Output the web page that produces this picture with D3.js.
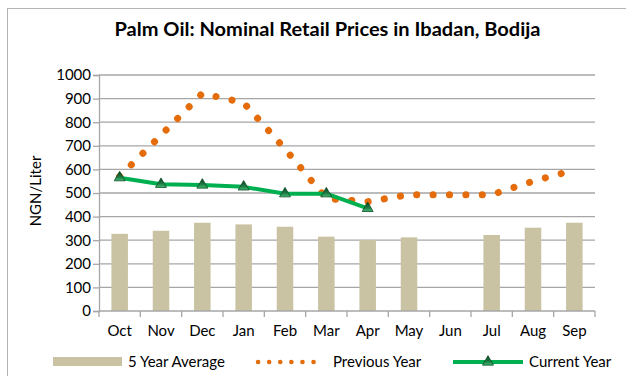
<!DOCTYPE html>
<html>
<head>
<meta charset="utf-8">
<script src="https://cdn.jsdelivr.net/npm/d3@7"></script>
<style>
  html, body { margin: 0; padding: 0; background: #fff; }
  svg { display: block; font-family: Lato, "Open Sans", sans-serif; }
</style>
</head>
<body>
<svg id="chart" width="626" height="376"></svg>
<script>
// Palm oil retail prices, Ibadan (Bodija market), NGN per liter
const months = ["Oct", "Nov", "Dec", "Jan", "Feb", "Mar", "Apr", "May", "Jun", "Jul", "Aug", "Sep"];
const fiveYearAvg = [327, 340, 374, 367, 357, 315, 301, 312, null, 322, 353, 374];
const previousYear = [570, 745, 922, 882, 687, 476, 463, 493, 493, 493, 550, 597];
const currentYear = [565, 537, 534, 526, 497, 497, 435, null, null, null, null, null];
const yTicks = [0, 100, 200, 300, 400, 500, 600, 700, 800, 900, 1000];

const titleText = "Palm Oil: Nominal Retail Prices in Ibadan, Bodija";
const yLabel = "NGN/Liter";
const legendLabels = ["5 Year Average", "Previous Year", "Current Year"];

const colors = { bar: "#c9c3a4", prev: "#e46c0a", curr: "#00b050", grid: "#a6a6a6", text: "#000" };

const svg = d3.select("#chart");
const plot = { left: 99, right: 595, top: 75, bottom: 311 };

// outer chart frame
svg.append("rect")
  .attr("x", 7.5).attr("y", 8.5).attr("width", 640).attr("height", 400)
  .attr("fill", "#fff").attr("stroke", "#b4b4b4").attr("stroke-width", 1);

const x = d3.scaleBand().domain(months).range([plot.left, plot.right]).paddingInner(0).paddingOuter(0);
const y = d3.scaleLinear().domain([0, 1000]).range([plot.bottom, plot.top]);
const cx = m => x(m) + x.bandwidth() / 2;

// horizontal gridlines + left ticks
const yAxis = d3.axisLeft(y).tickValues(yTicks).tickSize(6).tickPadding(2).tickFormat(d3.format("d"));
const gy = svg.append("g").attr("transform", `translate(${plot.left},0)`).call(yAxis);
gy.select(".domain").attr("stroke", colors.grid).attr("stroke-width", 1.3);
gy.selectAll(".tick line").attr("stroke", colors.grid).attr("stroke-width", 1.3);
gy.selectAll(".tick text").attr("font-size", 15).attr("fill", colors.text).attr("font-family", "Lato, sans-serif");
svg.append("g").selectAll("line").data(yTicks.filter(d => d > 0)).join("line")
  .attr("x1", plot.left).attr("x2", plot.right)
  .attr("y1", d => y(d)).attr("y2", d => y(d))
  .attr("stroke", colors.grid).attr("stroke-width", 1.3);

// bars: five-year average
const barW = x.bandwidth() * 0.4;
svg.append("g").selectAll("rect")
  .data(months.map((m, i) => ({ m, v: fiveYearAvg[i] })).filter(d => d.v != null))
  .join("rect")
  .attr("x", d => cx(d.m) - barW / 2)
  .attr("width", barW)
  .attr("y", d => y(d.v))
  .attr("height", d => y(0) - y(d.v))
  .attr("fill", colors.bar);

// category axis along the bottom
const xAxis = d3.axisBottom(x).tickSize(0).tickPadding(14);
const gx = svg.append("g").attr("transform", `translate(0,${plot.bottom})`).call(xAxis);
gx.select(".domain").remove();
gx.selectAll(".tick text").attr("font-size", 15).attr("fill", colors.text).attr("font-family", "Lato, sans-serif");
svg.append("line")
  .attr("x1", plot.left).attr("x2", plot.right)
  .attr("y1", plot.bottom).attr("y2", plot.bottom)
  .attr("stroke", colors.grid).attr("stroke-width", 1.3);
const boundaries = months.map(m => x(m)).concat([plot.right]);
svg.append("g").selectAll("line").data(boundaries).join("line")
  .attr("x1", d => d).attr("x2", d => d)
  .attr("y1", plot.bottom).attr("y2", plot.bottom + 6)
  .attr("stroke", colors.grid).attr("stroke-width", 1.3);

// previous year: thick round-dotted line
const prevLine = d3.line().x((d, i) => cx(months[i])).y(d => y(d));
svg.append("path")
  .datum(previousYear)
  .attr("d", prevLine)
  .attr("fill", "none")
  .attr("stroke", colors.prev)
  .attr("stroke-width", 7)
  .attr("stroke-linecap", "round")
  .attr("stroke-dasharray", "0.1 16.3");

// current year: solid green line with triangle markers
const defs = svg.append("defs");
const grad = defs.append("linearGradient").attr("id", "triFill").attr("x1", 0).attr("y1", 0).attr("x2", 0).attr("y2", 1);
grad.append("stop").attr("offset", "0%").attr("stop-color", "#0b3f1f");
grad.append("stop").attr("offset", "60%").attr("stop-color", "#1e7a43");
grad.append("stop").attr("offset", "100%").attr("stop-color", "#3fbf73");

const currPts = currentYear.map((v, i) => ({ m: months[i], v })).filter(d => d.v != null);
svg.append("path")
  .datum(currPts)
  .attr("d", d3.line().x(d => cx(d.m)).y(d => y(d.v)))
  .attr("fill", "none")
  .attr("stroke", colors.curr)
  .attr("stroke-width", 4)
  .attr("stroke-linejoin", "round");
const tri = d3.symbol().type(d3.symbolTriangle).size(52);
svg.append("g").selectAll("path").data(currPts).join("path")
  .attr("d", tri)
  .attr("transform", d => `translate(${cx(d.m)},${y(d.v)})`)
  .attr("fill", "url(#triFill)")
  .attr("stroke", "#0c4a24")
  .attr("stroke-width", 0.8);

// title
svg.append("text")
  .attr("x", 327.5).attr("y", 36)
  .attr("text-anchor", "middle")
  .attr("font-size", 18).attr("font-weight", "bold")
  .attr("fill", colors.text)
  .attr("textLength", 426).attr("lengthAdjust", "spacingAndGlyphs")
  .text(titleText);

// y-axis title
svg.append("text")
  .attr("transform", "translate(41,191) rotate(-90)")
  .attr("text-anchor", "middle")
  .attr("font-size", 15)
  .attr("fill", colors.text)
  .text(yLabel);

// legend
const lg = svg.append("g").attr("font-size", 15).attr("fill", colors.text);
const ly = 362;
lg.append("rect").attr("x", 53).attr("y", ly - 5).attr("width", 69).attr("height", 9).attr("fill", colors.bar);
lg.append("text").attr("x", 128).attr("y", ly).attr("dy", "0.35em").text(legendLabels[0]);

lg.append("line").attr("x1", 258).attr("x2", 324).attr("y1", ly).attr("y2", ly)
  .attr("stroke", colors.prev).attr("stroke-width", 4.5)
  .attr("stroke-linecap", "round").attr("stroke-dasharray", "0.1 11");
lg.append("text").attr("x", 333).attr("y", ly).attr("dy", "0.35em").text(legendLabels[1]);

lg.append("line").attr("x1", 453).attr("x2", 523).attr("y1", ly).attr("y2", ly)
  .attr("stroke", colors.curr).attr("stroke-width", 4);
lg.append("path").attr("d", tri).attr("transform", `translate(488,${ly})`)
  .attr("fill", "url(#triFill)").attr("stroke", "#0c4a24").attr("stroke-width", 0.8);
lg.append("text").attr("x", 529).attr("y", ly).attr("dy", "0.35em").text(legendLabels[2]);
</script>
</body>
</html>
